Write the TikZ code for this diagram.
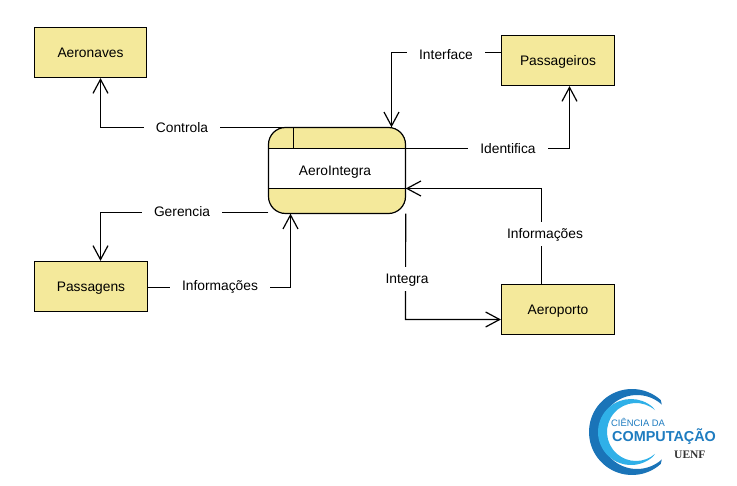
\documentclass[tikz,border=0pt]{standalone}
\usepackage{fontspec}
\setmainfont{Liberation Sans}
\newfontfamily\serifbold{Liberation Serif}
\usetikzlibrary{arrows.meta,calc}
\definecolor{boxfill}{HTML}{F4E99B}
\definecolor{logodark}{HTML}{1A74B8}
\definecolor{logolight}{HTML}{2FB0E8}
\definecolor{logotext}{HTML}{1E7CC0}
\tikzset{
  entity/.style={draw=black,fill=boxfill,line width=1.2pt,minimum height=50pt,inner sep=0pt,text height=10.5pt,text depth=0pt,font=\fontsize{13.8}{15}\selectfont},
  flow/.style={draw=black,line width=1.2pt,-{Straight Barb[length=14pt,width=15pt,line width=1.2pt]}},
  flowlabel/.style={fill=white,inner xsep=12pt,inner ysep=3pt,text height=9.5pt,text depth=0pt,font=\fontsize{13.8}{15}\selectfont},
}
\begin{document}
\begin{tikzpicture}[x=1pt,y=-1pt]
\useasboundingbox[fill=white] (0,0) rectangle (737,486);
% entities
\node[entity,minimum width=112pt] (aeronaves) at (90.5,52.5) {Aeronaves};
\node[entity,minimum width=113pt] (passageiros) at (558,60.5) {Passageiros};
\node[entity,minimum width=113pt] (passagens) at (91,286.5) {Passagens};
\node[entity,minimum width=113pt] (aeroporto) at (558,309.5) {Aeroporto};
% process
\node[fill=boxfill,rounded corners=17pt,minimum width=137pt,minimum height=86pt,inner sep=0pt] (proc) at (337,170.5) {};
\fill[white] (268.5,148.5) rectangle (405.5,188.5);
\draw[line width=1.2pt] (268.5,148.5) -- (405.5,148.5) (268.5,188.5) -- (405.5,188.5) (293.5,127.5) -- (293.5,148.5);
\draw[line width=1.2pt] (285.5,127.5) -- (388.5,127.5) arc[start angle=90,end angle=0,radius=17pt]
  -- (405.5,196.5) arc[start angle=0,end angle=-90,radius=17pt]
  -- (285.5,213.5) arc[start angle=270,end angle=180,radius=17pt]
  -- (268.5,144.5) arc[start angle=180,end angle=90,radius=17pt] -- cycle;
\node[font=\fontsize{13.8}{15}\selectfont,text height=10pt,text depth=0pt] (proctext) at (335,171) {AeroIntegra};
% connectors
\coordinate (c1) at (100.5,127.5);
\coordinate (c2) at (391.5,52.5);
\coordinate (c3) at (569.5,148.5);
\coordinate (c4) at (100.5,212.5);
\coordinate (c5) at (290.5,287.5);
\coordinate (c6) at (405.5,319.5);
\coordinate (c7) at (541.5,188.5);
\draw[flow] (282,127.5) -- (c1) -- (aeronaves.south -| c1);
\draw[flow] (passageiros.west |- c2) -- (c2) -- (proc.north -| c2);
\draw[flow] (proc.east |- c3) -- (c3) -- (passageiros.south -| c3);
\draw[flow] (proc.south west |- c4) -- (c4) -- (passagens.north -| c4);
\draw[flow] (passagens.east |- c5) -- (c5) -- (proc.south -| c5);
\draw[flow] (proc.south east) -- (c6) -- (aeroporto.west |- c6);
\draw[flow] (aeroporto.north -| c7) -- (c7) -- (proc.east |- c7);
% labels
\node[flowlabel] (l1) at (182,127.5) {Controla};
\node[flowlabel] (l2) at (446,55) {Interface};
\node[flowlabel] (l3) at (508,149) {Identifica};
\node[flowlabel] (l4) at (182,212) {Gerencia};
\node[flowlabel] (l5) at (220,285.5) {Informações};
\node[flowlabel,inner xsep=1pt,inner ysep=7pt] (l6) at (407,279) {Integra};
\node[flowlabel,inner xsep=1pt,inner ysep=7pt] (l7) at (545,234) {Informações};
% logo
\fill[logodark] ($(632,432)+(48:43)$) arc[start angle=-48,end angle=-312,radius=43pt]
  -- ($(637,432)+(312:37)$) arc[start angle=-312,end angle=-48,radius=37pt] -- cycle;
\fill[logolight] ($(631,432)+(49:33)$) arc[start angle=-49,end angle=-311,radius=33pt]
  -- ($(636,432)+(311:29)$) arc[start angle=-311,end angle=-49,radius=29pt] -- cycle;
\node[font=\fontsize{9.4}{10}\selectfont,text=logotext,anchor=west,inner sep=0pt] (logoa) at (611,422.5) {CIÊNCIA DA};
\node[font=\bfseries\fontsize{14.4}{18}\selectfont,text=logotext,anchor=west,inner sep=0pt] (logob) at (612,437) {COMPUTAÇÃO};
\node[font=\serifbold\bfseries\fontsize{11.5}{13}\selectfont,text=black!80,anchor=west,inner sep=0pt] (logoc) at (674,455) {UENF};
\end{tikzpicture}
\end{document}
